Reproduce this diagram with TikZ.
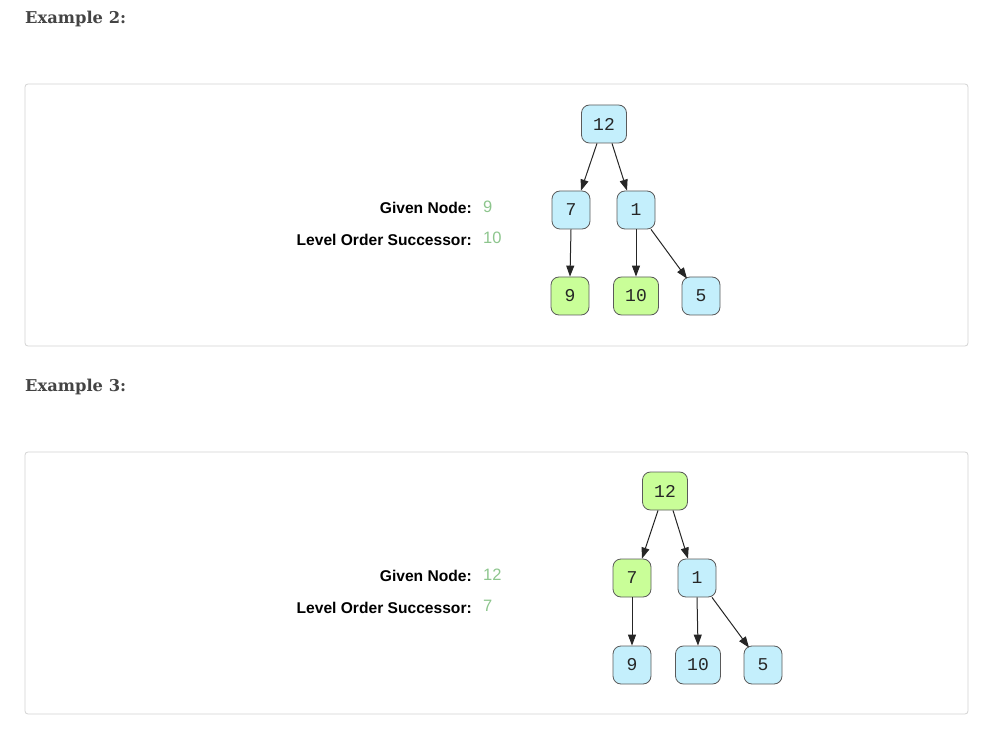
\documentclass[tikz,border=0pt]{standalone}
\usepackage{fontspec}
\setmainfont{Liberation Sans}
\newfontfamily\headfont{DejaVu Serif}
\newfontfamily\monofont{Liberation Mono}
\usetikzlibrary{arrows.meta,calc}
\definecolor{blueFill}{HTML}{C4EFFC}
\definecolor{greenFill}{HTML}{C9FE98}
\definecolor{nodeBorder}{HTML}{5A5A5A}
\definecolor{valGreen}{HTML}{8DC58D}
\definecolor{headGray}{HTML}{444444}
\definecolor{panelBorder}{HTML}{D3D3D3}
\tikzset{
  tn/.style={draw=nodeBorder, line width=0.8pt, rounded corners=8pt, minimum height=38pt, minimum width=38pt, inner sep=2pt, font=\monofont\fontsize{18}{18}\selectfont, text=black!85},
  bl/.style={tn, fill=blueFill},
  gr/.style={tn, fill=greenFill},
  wide/.style={minimum width=45pt},
  edge/.style={draw=black!85, line width=1pt, -{Triangle[length=11pt,width=8pt]}},
  panel/.style={draw=panelBorder, line width=0.8pt, rounded corners=3pt},
  heading/.style={anchor=west, inner sep=0pt, font=\headfont\bfseries\fontsize{16.3}{16}\selectfont, text=headGray},
  lbl/.style={anchor=east, inner sep=0pt, font=\bfseries\fontsize{15.6}{15}\selectfont},
  val/.style={anchor=west, inner sep=0pt, font=\fontsize{16.5}{16}\selectfont, text=valGreen}
}
\begin{document}
\begin{tikzpicture}[x=1pt,y=-1pt]
\useasboundingbox (0,0) rectangle (1005,730);
% ---------- Example 2 ----------
\node[heading] (h2) at (25,19) {Example 2:};
\draw[panel] (25,84) rectangle (968,346);
\node[lbl] (g2) at (472,208) {Given Node:};
\node[val] (gv2) at (483,207) {9};
\node[lbl] (s2) at (472,240) {Level Order Successor:};
\node[val] (sv2) at (483,238) {10};
\node[bl,wide] (a12) at (604,124) {12};
\node[bl] (a7) at (571,210) {7};
\node[bl] (a1) at (636,210) {1};
\node[gr] (a9) at (570,296) {9};
\node[gr,wide] (a10) at (636,296) {10};
\node[bl] (a5) at (701,296) {5};
\draw[edge] ($(a12.south)+(-7,0)$) -- ($(a7.north)+(10,0)$);
\draw[edge] ($(a12.south)+(8,0)$) -- ($(a1.north)+(-9,0)$);
\draw[edge] (a7.south) -- (a9.north);
\draw[edge] (a1.south) -- (a10.north);
\draw[edge] ($(a1.south)+(15,0)$) -- ($(a5.north)+(-14,2)$);
% ---------- Example 3 ----------
\node[heading] (h3) at (25,387) {Example 3:};
\draw[panel] (25,452) rectangle (968,714);
\node[lbl] (g3) at (472,576) {Given Node:};
\node[val] (gv3) at (483,575) {12};
\node[lbl] (s3) at (472,608) {Level Order Successor:};
\node[val] (sv3) at (483,606) {7};
\node[gr,wide] (b12) at (665,491) {12};
\node[gr] (b7) at (632,578) {7};
\node[bl] (b1) at (697,578) {1};
\node[bl] (b9) at (632,665) {9};
\node[bl,wide] (b10) at (698,665) {10};
\node[bl] (b5) at (763,665) {5};
\draw[edge] ($(b12.south)+(-7,0)$) -- ($(b7.north)+(10,0)$);
\draw[edge] ($(b12.south)+(8,0)$) -- ($(b1.north)+(-9,0)$);
\draw[edge] (b7.south) -- (b9.north);
\draw[edge] (b1.south) -- (b10.north);
\draw[edge] ($(b1.south)+(15,0)$) -- ($(b5.north)+(-14,2)$);
\end{tikzpicture}
\end{document}
